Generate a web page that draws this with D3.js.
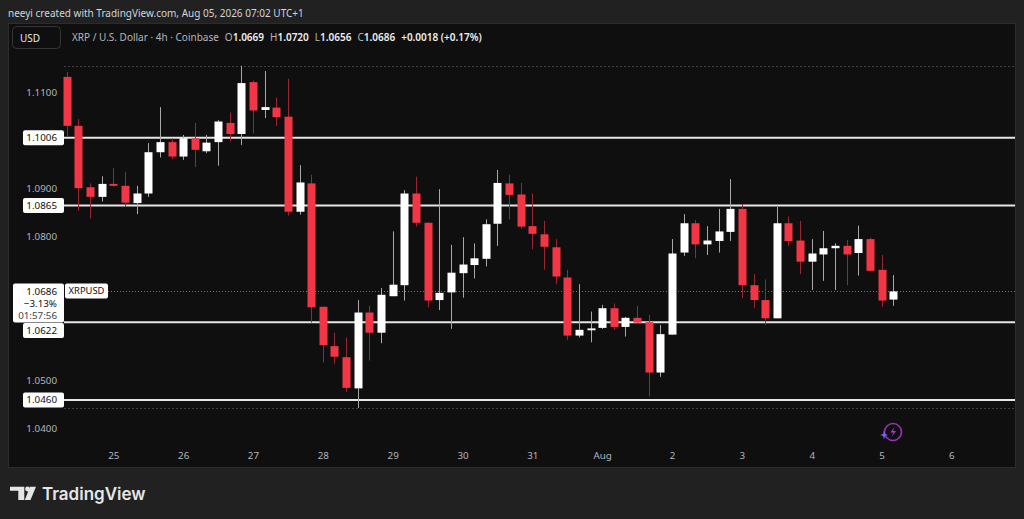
<!DOCTYPE html>
<html>
<head>
<meta charset="utf-8">
<script src="https://cdn.jsdelivr.net/npm/d3@7"></script>
<style>
html, body { margin: 0; padding: 0; background: #212121; }
svg { display: block; font-family: "Noto Sans", sans-serif; }
</style>
</head>
<body>
<script>
// 4h XRP/USD candles, first bar Jul 24 08:00
var opens  = [1.1133,1.1031,1.0903,1.0883,1.0910,1.0906,1.0870,1.0890,1.0976,1.0997,1.0967,1.1005,
              1.0978,1.0997,1.1037,1.1014,1.1122,1.1064,1.1069,1.1050,1.0852,1.0911,1.0654,1.0572,
              1.0549,1.0484,1.0642,1.0600,1.0676,1.0699,1.0890,1.0829,1.0668,1.0684,1.0724,1.0741,
              1.0754,1.0827,1.0911,1.0888,1.0822,1.0805,1.0778,1.0715,1.0594,1.0605,1.0610,1.0651,
              1.0612,1.0631,1.0622,1.0517,1.0596,1.0767,1.0828,1.0784,1.0791,1.0810,1.0858,1.0699,
              1.0668,1.0630,1.0828,1.0792,1.0748,1.0763,1.0776,1.0781,1.0766,1.0795,1.0731,1.0669];
var highs  = [1.1143,1.1045,1.0911,1.0926,1.0943,1.0935,1.0906,1.0995,1.1070,1.1005,1.1012,1.1037,
              1.1012,1.1043,1.1059,1.1156,1.1125,1.1145,1.1090,1.1129,1.0949,1.0929,1.0654,1.0600,
              1.0590,1.0668,1.0656,1.0693,1.0811,1.0897,1.0925,1.0830,1.0899,1.0783,1.0799,1.0786,
              1.0836,1.0939,1.0929,1.0912,1.0890,1.0833,1.0795,1.0731,1.0701,1.0644,1.0658,1.0661,
              1.0633,1.0656,1.0637,1.0616,1.0795,1.0847,1.0835,1.0822,1.0858,1.0920,1.0868,1.0722,
              1.0711,1.0862,1.0842,1.0833,1.0795,1.0812,1.0786,1.0793,1.0823,1.0798,1.0762,1.0720];
var lows   = [1.1008,1.0854,1.0838,1.0873,1.0904,1.0862,1.0847,1.0883,1.0965,1.0962,1.0960,1.0945,
              1.0974,1.0948,1.0998,1.0991,1.1015,1.1047,1.1031,1.0844,1.0846,1.0621,1.0538,1.0535,
              1.0477,1.0443,1.0542,1.0578,1.0676,1.0667,1.0821,1.0653,1.0647,1.0608,1.0673,1.0713,
              1.0738,1.0781,1.0836,1.0817,1.0774,1.0731,1.0701,1.0585,1.0590,1.0580,1.0608,1.0606,
              1.0592,1.0621,1.0467,1.0508,1.0596,1.0760,1.0755,1.0762,1.0767,1.0791,1.0672,1.0651,
              1.0616,1.0630,1.0781,1.0722,1.0689,1.0708,1.0689,1.0699,1.0719,1.0729,1.0654,1.0656];
var closes = [1.1031,1.0901,1.0883,1.0910,1.0906,1.0871,1.0890,1.0976,1.0997,1.0967,1.1005,1.0981,
              1.0996,1.1040,1.1014,1.1120,1.1063,1.1070,1.1049,1.0852,1.0913,1.0653,1.0574,1.0550,
              1.0485,1.0642,1.0600,1.0679,1.0700,1.0890,1.0829,1.0667,1.0683,1.0725,1.0742,1.0755,
              1.0826,1.0912,1.0887,1.0821,1.0806,1.0779,1.0717,1.0594,1.0606,1.0609,1.0651,1.0612,
              1.0631,1.0621,1.0517,1.0597,1.0765,1.0828,1.0784,1.0792,1.0811,1.0858,1.0699,1.0668,
              1.0630,1.0828,1.0791,1.0748,1.0765,1.0776,1.0781,1.0763,1.0795,1.0729,1.0667,1.0686];

var levels = [1.1006, 1.0865, 1.0622, 1.0460];
var priceTicks = [1.04, 1.05, 1.06, 1.07, 1.08, 1.09, 1.10, 1.11];
var firstBar = Date.UTC(2026, 6, 24, 8);
var barHours = 4;

var lastPrice = 1.0686;
var lastChange = "\u22123.13%";
var countdown = "01:57:56";
var symbol = "XRPUSD";
var headerText = "neeyi created with TradingView.com, Aug 05, 2026 07:02 UTC+1";
var titleText = "XRP / U.S. Dollar \u00b7 4h \u00b7 Coinbase";
var ohlcLabels = ["O", "H", "L", "C"];
var ohlcValues = ["1.0669", "1.0720", "1.0656", "1.0686"];
var changeText = "+0.0018 (+0.17%)";

var bars = opens.map(function(o, i) {
    return {t: new Date(firstBar + i * barHours * 3600e3), o: o, h: highs[i], l: lows[i], c: closes[i]};
});

var W = 1024, H = 519;
var pane = {left: 8, top: 23, right: 1015, bottom: 467};
var fs = 9.8;

var x = d3.scaleUtc()
    .domain([new Date(Date.UTC(2026, 6, 25)), new Date(Date.UTC(2026, 7, 6))])
    .range([113.3, 951.4]);
var y = d3.scaleLinear()
    .domain([1.04, 1.11])
    .range([428.7, 92.7]);

var svg = d3.select("body").append("svg")
    .attr("width", W)
    .attr("height", H);

svg.append("rect").attr("width", W).attr("height", H).attr("fill", "#212121");

svg.append("text")
    .attr("x", 8).attr("y", 16.5)
    .attr("font-size", 10)
    .attr("fill", "#d1d4dc")
    .text(headerText);

svg.append("rect")
    .attr("x", pane.left + 0.5).attr("y", pane.top + 0.5)
    .attr("width", pane.right - pane.left).attr("height", pane.bottom - pane.top)
    .attr("fill", "#0f0f0f")
    .attr("stroke", "#2c2c2c");

// legend
svg.append("rect")
    .attr("x", 12.5).attr("y", 26.5).attr("width", 48).attr("height", 22).attr("rx", 4)
    .attr("fill", "none").attr("stroke", "#363636");
svg.append("text").attr("x", 20).attr("y", 41.5).attr("font-size", 10).attr("fill", "#e8e8e8").text("USD");

var leg = svg.append("text").attr("x", 72).attr("y", 40.5).attr("font-size", 10).attr("fill", "#b2b5be");
leg.append("tspan").text(titleText);
ohlcLabels.forEach(function(l, i) {
    leg.append("tspan").attr("dx", 6).attr("fill", "#b2b5be").text(l);
    leg.append("tspan").attr("fill", "#f0f0f0").attr("font-weight", 600).text(ohlcValues[i]);
});
leg.append("tspan").attr("dx", 6).attr("fill", "#f0f0f0").attr("font-weight", 600).text(changeText);

// high / low of visible range
var hi = d3.max(highs), lo = d3.min(lows);
svg.append("g").selectAll("line")
    .data([hi, lo])
    .enter().append("line")
    .attr("x1", 64).attr("x2", pane.right)
    .attr("y1", function(d) { return Math.round(y(d)) + 0.5; })
    .attr("y2", function(d) { return Math.round(y(d)) + 0.5; })
    .attr("stroke", "#3e3e3e")
    .attr("stroke-dasharray", "2,2");

// last price dotted line
svg.append("line")
    .attr("x1", 108).attr("x2", pane.right)
    .attr("y1", Math.round(y(lastPrice)) + 0.5).attr("y2", Math.round(y(lastPrice)) + 0.5)
    .attr("stroke", "#777").attr("stroke-dasharray", "1,2");

// horizontal levels
svg.append("g").selectAll("line")
    .data(levels)
    .enter().append("line")
    .attr("x1", 64).attr("x2", pane.right)
    .attr("y1", function(d) { return y(d); })
    .attr("y2", function(d) { return y(d); })
    .attr("stroke", "#e6e6e6")
    .attr("stroke-width", 2);

// candles
var bodyW = 8;
var candle = svg.append("g").selectAll("g")
    .data(bars)
    .enter().append("g");
candle.append("line")
    .attr("x1", function(d) { return Math.round(x(d.t)) + 0.5; })
    .attr("x2", function(d) { return Math.round(x(d.t)) + 0.5; })
    .attr("y1", function(d) { return y(d.h); })
    .attr("y2", function(d) { return y(d.l); })
    .attr("stroke", function(d) { return d.c >= d.o ? "#a8a8a8" : "#9a2632"; });
candle.append("rect")
    .attr("x", function(d) { return Math.round(x(d.t)) + 0.5 - bodyW / 2; })
    .attr("width", bodyW)
    .attr("y", function(d) { return y(Math.max(d.o, d.c)); })
    .attr("height", function(d) { return Math.max(1, Math.abs(y(d.o) - y(d.c))); })
    .attr("fill", function(d) { return d.c >= d.o ? "#ffffff" : "#f23645"; });

// label boxes on the price scale; axis ticks hidden behind them are skipped
var lpTop = y(lastPrice) - 8, lpBottom = lpTop + 39;
var levelY = levels.map(function(d) {
    var cy = y(d);
    if (cy - 7.5 < lpBottom && cy + 7.5 > lpTop) cy = lpBottom + 8;
    return cy;
});
var boxes = levelY.map(function(cy) { return [cy - 7.5, cy + 7.5]; }).concat([[lpTop, lpBottom]]);
var shownTicks = priceTicks.filter(function(t) {
    var ty = y(t);
    return !boxes.some(function(b) { return ty + 6 > b[0] && ty - 6 < b[1]; });
});

// price axis (left)
var yAxis = d3.axisLeft(y)
    .tickValues(shownTicks)
    .tickFormat(d3.format(".4f"))
    .tickSize(0)
    .tickPadding(0);
var gy = svg.append("g")
    .attr("transform", "translate(57,0)")
    .call(yAxis);
gy.select(".domain").remove();
gy.selectAll("text").attr("fill", "#b2b5be").attr("font-size", fs).attr("font-family", "Noto Sans");

// time axis
var xAxis = d3.axisBottom(x)
    .ticks(d3.utcDay.every(1))
    .tickFormat(function(d) { return d.getUTCDate() == 1 ? "Aug" : d.getUTCDate(); })
    .tickSize(0)
    .tickPadding(0);
var gx = svg.append("g")
    .attr("transform", "translate(0,452)")
    .call(xAxis);
gx.select(".domain").remove();
gx.selectAll("text").attr("fill", "#b2b5be").attr("font-size", fs).attr("font-family", "Noto Sans");

// last price label
svg.append("rect").attr("x", 13).attr("y", lpTop).attr("width", 51).attr("height", 39).attr("rx", 2).attr("fill", "#ffffff");
svg.append("text").attr("x", 57).attr("y", lpTop + 11.5).attr("text-anchor", "end").attr("font-size", fs).attr("fill", "#111").text(d3.format(".4f")(lastPrice));
svg.append("text").attr("x", 57).attr("y", lpTop + 23.5).attr("text-anchor", "end").attr("font-size", fs).attr("fill", "#111").text(lastChange);
svg.append("text").attr("x", 57).attr("y", lpTop + 35.5).attr("text-anchor", "end").attr("font-size", fs).attr("fill", "#444").text(countdown);
svg.append("rect").attr("x", 65).attr("y", lpTop).attr("width", 43).attr("height", 15).attr("rx", 2).attr("fill", "#ffffff");
svg.append("text").attr("x", 86.5).attr("y", lpTop + 11).attr("text-anchor", "middle").attr("font-size", 9.4).attr("fill", "#111").text(symbol);

// level labels
var lvl = svg.append("g").selectAll("g")
    .data(levels)
    .enter().append("g")
    .attr("transform", function(d, i) { return "translate(0," + levelY[i] + ")"; });
lvl.append("rect").attr("x", 23).attr("y", -7.5).attr("width", 41).attr("height", 15).attr("rx", 2).attr("fill", "#ffffff");
lvl.append("text").attr("x", 57).attr("y", 3.5).attr("text-anchor", "end").attr("font-size", fs).attr("fill", "#111")
    .text(function(d) { return d3.format(".4f")(d); });

// small badge near the last bar
var badge = svg.append("g").attr("transform", "translate(893,432)");
badge.append("circle").attr("r", 8.5).attr("fill", "none").attr("stroke", "#9c2fb8").attr("stroke-width", 1.6);
badge.append("path").attr("d", "M1.5,-5 L-2.5,0.5 L0.5,0.5 L-1.5,5 L3,-1 L0,-1 Z").attr("fill", "#b03bd0");
badge.append("path").attr("d", "M-9,-1.5 L-8,2 L-5,3 L-8,4 L-9,7.5 L-10,4 L-13,3 L-10,2 Z").attr("fill", "#7c5cff");

// TradingView logo
var logo = svg.append("g").attr("fill", "#e6e6e6");
logo.append("path").attr("d", "M10,486.7 H24.3 V500 H18.3 V490.7 H10 Z");
logo.append("circle").attr("cx", 27.5).attr("cy", 489).attr("r", 2.4);
logo.append("path").attr("d", "M30,486.7 H36 L30.5,500 H24.8 Z");
svg.append("text").attr("x", 42).attr("y", 500).attr("font-family", "Inter").attr("font-weight", 600)
    .attr("font-size", 17).attr("fill", "#e6e6e6").text("TradingView");
</script>
</body>
</html>
